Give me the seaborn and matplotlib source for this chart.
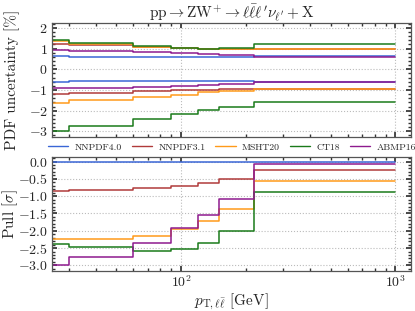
import numpy as np
import pandas as pd
import matplotlib
matplotlib.use("Agg")
import matplotlib.pyplot as plt
import seaborn as sns
from matplotlib.ticker import AutoMinorLocator, FuncFormatter

edges = [25, 30, 60, 90, 120, 150, 220, 1000]
pdfs = ["NNPDF4.0", "NNPDF3.1", "MSHT20", "CT18", "ABMP16"]
colors = ["#3a66d6", "#b03a3a", "#ff9a1a", "#1a7a1a", "#8e1a8e"]

unc_up = {
    "NNPDF4.0": [0.64, 0.60, 0.60, 0.58, 0.58, 0.58, 0.63],
    "NNPDF3.1": [1.22, 1.15, 1.08, 1.03, 1.00, 1.00, 0.96],
    "MSHT20":   [1.35, 1.22, 1.10, 1.05, 1.00, 0.98, 0.97],
    "CT18":     [1.42, 1.27, 1.14, 1.05, 1.00, 1.03, 1.22],
    "ABMP16":   [0.92, 0.87, 0.84, 0.81, 0.76, 0.71, 0.61],
}
unc_dn = {
    "NNPDF4.0": [-0.63, -0.58, -0.58, -0.57, -0.56, -0.57, -0.60],
    "NNPDF3.1": [-1.21, -1.13, -1.05, -1.01, -0.98, -0.96, -0.95],
    "MSHT20":   [-1.61, -1.50, -1.34, -1.24, -1.10, -1.05, -0.93],
    "CT18":     [-2.98, -2.74, -2.40, -2.17, -1.98, -1.82, -1.56],
    "ABMP16":   [-0.92, -0.89, -0.84, -0.79, -0.74, -0.69, -0.61],
}
pull = {
    "NNPDF4.0": [0.0, 0.0, 0.0, 0.0, 0.0, 0.0, 0.0],
    "NNPDF3.1": [-0.84, -0.82, -0.76, -0.70, -0.61, -0.51, -0.23],
    "MSHT20":   [-2.25, -2.25, -2.14, -1.95, -1.72, -1.38, -0.55],
    "CT18":     [-2.39, -2.47, -2.58, -2.53, -2.35, -2.01, -0.87],
    "ABMP16":   [-2.98, -2.77, -2.36, -1.91, -1.53, -1.08, -0.07],
}

sns.set_theme(style="ticks")
plt.rcParams.update({
    "font.family": ["cmr10", "DejaVu Serif"],
    "mathtext.fontset": "cm",
    "axes.formatter.use_mathtext": True,
    "axes.unicode_minus": True,
})


def long_df(d, bound):
    rows = []
    for p in pdfs:
        vals = list(d[p]) + [d[p][-1]]
        for x, v in zip(edges, vals):
            rows.append({"pT": x, "val": v, "pdf": p, "bound": bound})
    return rows


df_unc = pd.DataFrame(long_df(unc_up, "up") + long_df(unc_dn, "dn"))
df_pull = pd.DataFrame(long_df(pull, "c"))
palette = dict(zip(pdfs, colors))

fig = plt.figure(figsize=(4.15, 3.11), dpi=100)
ax1 = fig.add_axes([0.125, 0.561, 0.865, 0.366])
ax2 = fig.add_axes([0.125, 0.130, 0.865, 0.365])

sns.lineplot(data=df_unc, x="pT", y="val", hue="pdf", units="bound",
             estimator=None, drawstyle="steps-post", palette=palette,
             lw=1.1, ax=ax1, legend=False, hue_order=pdfs)
sns.lineplot(data=df_pull, x="pT", y="val", hue="pdf", units="bound",
             estimator=None, drawstyle="steps-post", palette=palette,
             lw=1.1, ax=ax2, legend=False, hue_order=pdfs)

for ax in (ax1, ax2):
    ax.set_xscale("log")
    ax.set_xlim(25, 1180)
    ax.grid(True, which="major", ls=":", color="#bbbbbb", lw=0.8)
    ax.tick_params(which="both", direction="in", top=True, right=True,
                   labelsize=10, color="#333333", pad=3)
    ax.tick_params(which="major", length=3.5)
    ax.tick_params(which="minor", length=2)
    ax.yaxis.set_minor_locator(AutoMinorLocator())
    for s in ax.spines.values():
        s.set_color("#555555")
        s.set_linewidth(0.9)
    ax.set_xlabel("")

ax1.set_ylim(-3.25, 2.25)
ax1.set_yticks([-3, -2, -1, 0, 1, 2])
ax1.yaxis.set_major_formatter(FuncFormatter(lambda v, p: f"${v:.0f}$"))
ax1.tick_params(labelbottom=False)
ax1.set_ylabel("PDF uncertainty [%]", fontsize=11)
ax1.set_title(r"$\mathrm{pp}\rightarrow\mathrm{ZW}^{+}\rightarrow\ell\bar{\ell}\ell'\nu_{\ell'}+\mathrm{X}$",
              fontsize=11, pad=2)

ax2.set_ylim(-3.15, 0.13)
ax2.set_yticks([-3.0, -2.5, -2.0, -1.5, -1.0, -0.5, 0.0])
ax2.yaxis.set_major_formatter(FuncFormatter(lambda v, p: f"${v:.1f}$"))
ax2.set_ylabel(r"Pull [$\sigma$]", fontsize=11)
ax2.set_xlabel(r"$p_{\mathrm{T},\ell\bar{\ell}}$ [GeV]", fontsize=11, labelpad=1)

for ax in (ax1, ax2):
    ax.yaxis.set_label_coords(-0.088, 0.5)

handles = [plt.Line2D([], [], color=c, lw=1.0) for c in colors]
fig.legend(handles, pdfs, loc="center", bbox_to_anchor=(0.559, 0.527),
           ncol=5, frameon=False, fontsize=7, handlelength=2.1,
           columnspacing=1.0, handletextpad=0.65, borderaxespad=0,
           borderpad=0)

fig.savefig("out.png", dpi=100)
